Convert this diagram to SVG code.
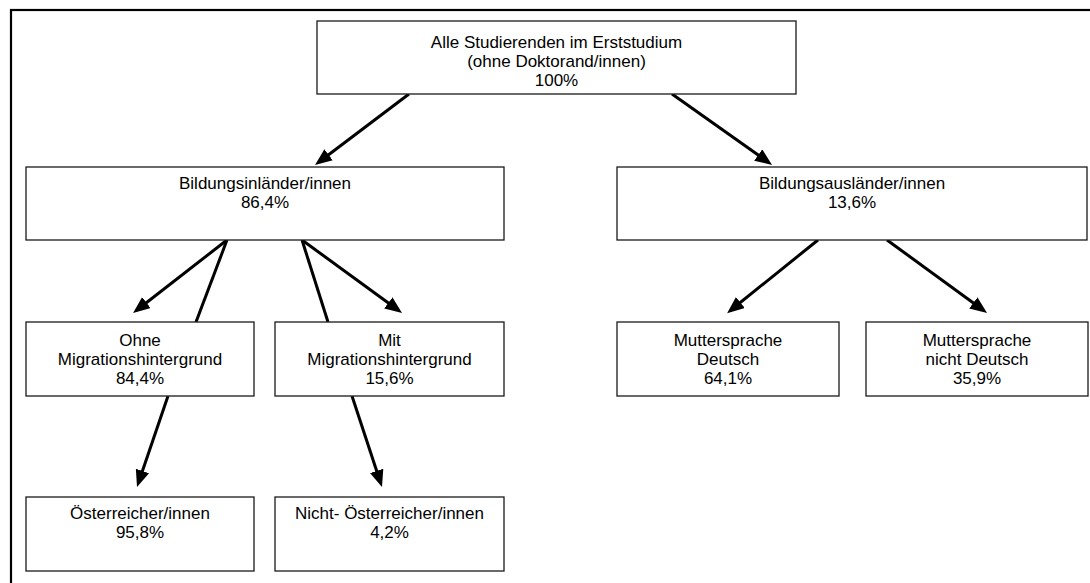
<svg xmlns="http://www.w3.org/2000/svg" width="1090" height="583" viewBox="0 0 1090 583">
<style>
.box{fill:#fff;stroke:#1a1a1a;stroke-width:1.3}
.t{font-family:"Liberation Sans",Arial,sans-serif;font-size:17px;fill:#000;text-anchor:middle}
.c{stroke:#000;stroke-width:3;fill:none}
.a{marker-end:url(#ah)}
</style>
<defs>
<marker id="ah" markerUnits="userSpaceOnUse" markerWidth="18" markerHeight="15" refX="12" refY="7" orient="auto" viewBox="0 0 18 15">
<path d="M0,0 L17,7 L0,14 z" fill="#000"/>
</marker>
</defs>
<rect x="0" y="0" width="1090" height="583" fill="#fff"/>
<rect x="11" y="10" width="1100" height="600" fill="none" stroke="#000" stroke-width="2.2"/>
<g id="connectors">
<line class="c a" x1="409" y1="94" x2="319" y2="162"/>
<line class="c a" x1="672" y1="94" x2="768" y2="162"/>
<line class="c a" x1="227" y1="240" x2="137" y2="310"/>
<line class="c" x1="227" y1="240" x2="196" y2="322"/>
<line class="c" x1="302" y1="240" x2="328" y2="322"/>
<line class="c a" x1="302" y1="240" x2="398" y2="310"/>
<line class="c a" x1="818" y1="240" x2="731" y2="310"/>
<line class="c a" x1="887" y1="240" x2="983" y2="310"/>
<line class="c a" x1="168" y1="396" x2="138.6" y2="482.3"/>
<line class="c a" x1="352" y1="396" x2="380.4" y2="482.3"/>
</g>
<g id="alle">
<rect class="box" x="317" y="21" width="479" height="73"/>
<text class="t" x="556.5" y="48">Alle Studierenden im Erststudium</text>
<text class="t" x="556.5" y="67">(ohne Doktorand/innen)</text>
<text class="t" x="556.5" y="86">100%</text>
</g>
<g id="inlaender">
<rect class="box" x="26" y="167" width="478" height="73"/>
<text class="t" x="265" y="189">Bildungsinländer/innen</text>
<text class="t" x="265" y="208">86,4%</text>
</g>
<g id="auslaender">
<rect class="box" x="617" y="167" width="470" height="73"/>
<text class="t" x="852" y="189">Bildungsausländer/innen</text>
<text class="t" x="852" y="208">13,6%</text>
</g>
<g id="ohne">
<rect class="box" x="26" y="322" width="228" height="74"/>
<text class="t" x="140" y="346">Ohne</text>
<text class="t" x="140" y="365">Migrationshintergrund</text>
<text class="t" x="140" y="384">84,4%</text>
</g>
<g id="mit">
<rect class="box" x="275" y="322" width="229" height="74"/>
<text class="t" x="389.5" y="346">Mit</text>
<text class="t" x="389.5" y="365">Migrationshintergrund</text>
<text class="t" x="389.5" y="384">15,6%</text>
</g>
<g id="deutsch">
<rect class="box" x="617" y="322" width="222" height="74"/>
<text class="t" x="728" y="346">Muttersprache</text>
<text class="t" x="728" y="365">Deutsch</text>
<text class="t" x="728" y="384">64,1%</text>
</g>
<g id="nichtdeutsch">
<rect class="box" x="866" y="322" width="222" height="74"/>
<text class="t" x="977" y="346">Muttersprache</text>
<text class="t" x="977" y="365">nicht Deutsch</text>
<text class="t" x="977" y="384">35,9%</text>
</g>
<g id="oesterreicher">
<rect class="box" x="26" y="497" width="228" height="74"/>
<text class="t" x="140" y="519">Österreicher/innen</text>
<text class="t" x="140" y="538">95,8%</text>
</g>
<g id="nichtoesterreicher">
<rect class="box" x="275" y="497" width="229" height="74"/>
<text class="t" x="389.5" y="519">Nicht- Österreicher/innen</text>
<text class="t" x="389.5" y="538">4,2%</text>
</g>
</svg>
